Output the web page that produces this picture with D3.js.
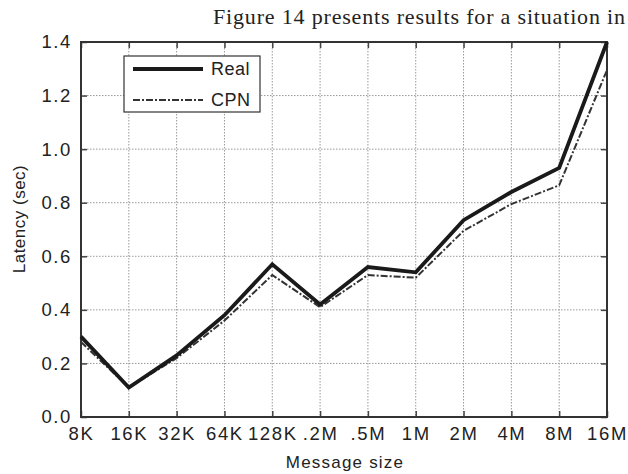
<!DOCTYPE html>
<html>
<head>
<meta charset="utf-8">
<script src="https://cdn.jsdelivr.net/npm/d3@7"></script>
<style>
  body { margin: 0; background: #fff; }
  svg { display: block; }
</style>
</head>
<body>
<script>
// values
var sizes = ["8K", "16K", "32K", "64K", "128K", ".2M", ".5M", "1M", "2M", "4M", "8M", "16M"];
var realLatency = [0.30, 0.11, 0.23, 0.38, 0.57, 0.42, 0.56, 0.54, 0.735, 0.84, 0.93, 1.40];
var cpnLatency = [0.28, 0.11, 0.22, 0.36, 0.53, 0.41, 0.53, 0.52, 0.695, 0.795, 0.865, 1.295];
var yTicks = [0.0, 0.2, 0.4, 0.6, 0.8, 1.0, 1.2, 1.4];

var W = 628, H = 474;
var pLeft = 81, pRight = 607, pTop = 42, pBottom = 417;

var svg = d3.select("body").append("svg")
  .attr("width", W)
  .attr("height", H);

// running text of the page above the figure
svg.append("text")
  .attr("x", 625)
  .attr("y", 24)
  .attr("text-anchor", "end")
  .attr("font-family", "Liberation Serif, serif")
  .attr("font-size", 22)
  .attr("fill", "#222")
  .attr("textLength", 412)
  .text("Figure 14 presents results for a situation in");

var x = d3.scalePoint().domain(sizes).range([pLeft, pRight]);
var y = d3.scaleLinear().domain([0, 1.4]).range([pBottom, pTop]);

var font = "Liberation Sans, Arial, sans-serif";

// grid
var grid = svg.append("g").attr("stroke", "#999").attr("stroke-width", 1).attr("stroke-dasharray", "1.5,1.5");
grid.selectAll(".gx").data(sizes.slice(1, -1)).enter().append("line")
  .attr("x1", function(d){ return x(d); }).attr("x2", function(d){ return x(d); })
  .attr("y1", pTop).attr("y2", pBottom);
grid.selectAll(".gy").data(yTicks.slice(1, -1)).enter().append("line")
  .attr("x1", pLeft).attr("x2", pRight)
  .attr("y1", function(d){ return y(d); }).attr("y2", function(d){ return y(d); });

// axes with inward ticks
var xb = svg.append("g").attr("transform", "translate(0," + pBottom + ")")
  .call(d3.axisBottom(x).tickSize(-6).tickPadding(10));
var xt = svg.append("g").attr("transform", "translate(0," + pTop + ")")
  .call(d3.axisTop(x).tickSize(-6).tickFormat(""));
var yl = svg.append("g").attr("transform", "translate(" + pLeft + ",0)")
  .call(d3.axisLeft(y).tickValues(yTicks).tickSize(-6).tickPadding(9).tickFormat(d3.format(".1f")));
var yr = svg.append("g").attr("transform", "translate(" + pRight + ",0)")
  .call(d3.axisRight(y).tickValues(yTicks).tickSize(-6).tickFormat(""));

[xb, xt, yl, yr].forEach(function(g){
  g.select(".domain").remove();
  g.selectAll(".tick line").attr("stroke", "#444").attr("stroke-width", 1.5);
  g.selectAll(".tick text").attr("font-family", font).attr("font-size", 18.5)
    .attr("letter-spacing", 1.6).attr("fill", "#222");
});

svg.append("rect")
  .attr("x", pLeft).attr("y", pTop)
  .attr("width", pRight - pLeft).attr("height", pBottom - pTop)
  .attr("fill", "none").attr("stroke", "#333").attr("stroke-width", 2);

// series
var line = d3.line()
  .x(function(d, i){ return x(sizes[i]); })
  .y(function(d){ return y(d); });

svg.append("path").datum(cpnLatency)
  .attr("d", line)
  .attr("fill", "none").attr("stroke", "#333").attr("stroke-width", 2)
  .attr("stroke-dasharray", "7,2,2,2");

svg.append("path").datum(realLatency)
  .attr("d", line)
  .attr("fill", "none").attr("stroke", "#1a1a1a").attr("stroke-width", 3.8)
  .attr("stroke-linejoin", "miter");

// legend
var leg = svg.append("g");
leg.append("rect").attr("x", 124).attr("y", 56).attr("width", 136).attr("height", 56)
  .attr("fill", "#fff").attr("stroke", "#333").attr("stroke-width", 1.2);
leg.append("line").attr("x1", 133).attr("x2", 203).attr("y1", 69).attr("y2", 69)
  .attr("stroke", "#1a1a1a").attr("stroke-width", 3.8);
leg.append("line").attr("x1", 133).attr("x2", 203).attr("y1", 100).attr("y2", 100)
  .attr("stroke", "#333").attr("stroke-width", 2).attr("stroke-dasharray", "7,2,2,2");
leg.append("text").attr("x", 211).attr("y", 75).attr("font-family", font).attr("font-size", 18)
  .attr("letter-spacing", 0.5).attr("fill", "#222").text("Real");
leg.append("text").attr("x", 211).attr("y", 106).attr("font-family", font).attr("font-size", 18)
  .attr("letter-spacing", 0.5).attr("fill", "#222").text("CPN");

// axis titles
svg.append("text")
  .attr("x", 345).attr("y", 468)
  .attr("text-anchor", "middle")
  .attr("font-family", font).attr("font-size", 17).attr("letter-spacing", 1.2).attr("fill", "#222")
  .text("Message size");

svg.append("text")
  .attr("transform", "translate(25,219) rotate(-90)")
  .attr("text-anchor", "middle")
  .attr("font-family", font).attr("font-size", 17).attr("letter-spacing", 0.5).attr("fill", "#222")
  .text("Latency (sec)");
</script>
</body>
</html>
